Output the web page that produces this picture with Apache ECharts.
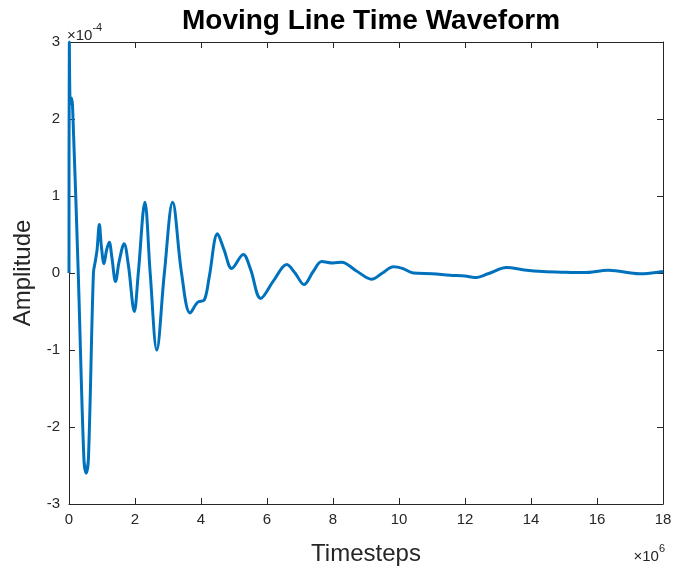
<!DOCTYPE html>
<html><head><meta charset="utf-8">
<script src="https://cdn.jsdelivr.net/npm/echarts@6/dist/echarts.min.js"></script>
<style>html,body{margin:0;padding:0;background:#fff}#c{width:675px;height:571px}</style>
</head><body><div id="c"></div>
<script>
// Timesteps in units of 1e6, amplitude in units of 1e-4
const timeSteps = [0,0.01,0.04,0.08,0.13,0.28,0.45,0.52,0.59,0.74,0.80,0.85,0.92,0.98,1.06,1.14,1.22,1.30,1.41,1.52,1.67,1.80,1.98,2.10,2.30,2.46,2.66,2.89,3.14,3.41,3.67,3.9,4.1,4.25,4.5,4.7,4.93,5.28,5.5,5.81,6.2,6.6,6.85,7.12,7.4,7.66,8.0,8.26,8.7,9.17,9.5,9.83,10.1,10.43,11.0,11.55,12.0,12.3,12.7,13.26,13.8,14.37,15.0,15.6,16.35,17.3,18.0];
const amplitude = [0.0,3.0,2.2,2.27,1.9,0.0,-2.4,-2.6,-2.4,0.0,0.16,0.3,0.63,0.35,0.12,0.3,0.4,0.2,-0.11,0.15,0.38,0.1,-0.5,0.0,0.92,0.0,-1.0,0.0,0.92,0.0,-0.52,-0.38,-0.35,-0.05,0.51,0.3,0.06,0.24,0.05,-0.33,-0.1,0.11,0.0,-0.15,0.02,0.15,0.13,0.14,0.03,-0.08,0.0,0.08,0.06,0.0,-0.01,-0.03,-0.04,-0.06,-0.01,0.07,0.04,0.02,0.01,0.005,0.035,-0.01,0.02];
const xTicks = [0,2,4,6,8,10,12,14,16,18];
const yTicks = [-3,-2,-1,0,1,2,3];

const chart = echarts.init(document.getElementById('c'));
const G = {left:69, right:12, top:42, bottom:64};
const axisCol = '#262626';
const font = 'Liberation Sans, Arial, Helvetica, sans-serif';
const baseAxis = () => ({
  axisLine:{show:true, onZero:false, lineStyle:{color:axisCol, width:1}},
  axisTick:{show:true, inside:true, length:6, lineStyle:{color:axisCol}},
  splitLine:{show:false},
});
chart.setOption({
  animation:false,
  title:{text:'Moving Line Time Waveform', left:366, top:2, textAlign:'center',
    textStyle:{fontFamily:font, fontSize:28, fontWeight:'bold', color:'#000'}},
  grid:G,
  xAxis:[
    Object.assign(baseAxis(), {type:'value', min:xTicks[0], max:xTicks[xTicks.length-1], interval:2, position:'bottom',
      axisLabel:{color:axisCol, fontSize:15, fontFamily:font, margin:8},
      name:'Timesteps', nameLocation:'middle', nameGap:38,
      nameTextStyle:{color:axisCol, fontSize:24, fontFamily:font}}),
    Object.assign(baseAxis(), {type:'value', min:xTicks[0], max:xTicks[xTicks.length-1], interval:2, position:'top',
      axisLabel:{show:false}})
  ],
  yAxis:[
    Object.assign(baseAxis(), {type:'value', min:yTicks[0], max:yTicks[yTicks.length-1], interval:1, position:'left',
      axisLabel:{color:axisCol, fontSize:15, fontFamily:font, margin:9},
      name:'Amplitude', nameLocation:'middle', nameGap:33,
      nameTextStyle:{color:axisCol, fontSize:24, fontFamily:font}}),
    Object.assign(baseAxis(), {type:'value', min:yTicks[0], max:yTicks[yTicks.length-1], interval:1, position:'right',
      axisLabel:{show:false}})
  ],
  graphic:[
    {type:'text', left:G.left-2, top:22, style:{
      text:'{a|×10}{b|-4}', rich:{a:{fontSize:15, fontFamily:font, fill:axisCol, padding:[6,0,0,0]}, b:{fontSize:11, fontFamily:font, fill:axisCol, verticalAlign:'top'}}}},
    {type:'text', right:10, top:543, style:{
      text:'{a|×10}{b|6}', rich:{a:{fontSize:15, fontFamily:font, fill:axisCol, padding:[6,0,0,0]}, b:{fontSize:11, fontFamily:font, fill:axisCol, verticalAlign:'top'}}}}
  ],
  series:[{
    type:'line', xAxisIndex:0, yAxisIndex:0,
    data: timeSteps.map((t,i)=>[t, amplitude[i]]),
    showSymbol:false, smooth:0.35, clip:true,
    lineStyle:{color:'#0072BD', width:3}
  }]
});
</script></body></html>
